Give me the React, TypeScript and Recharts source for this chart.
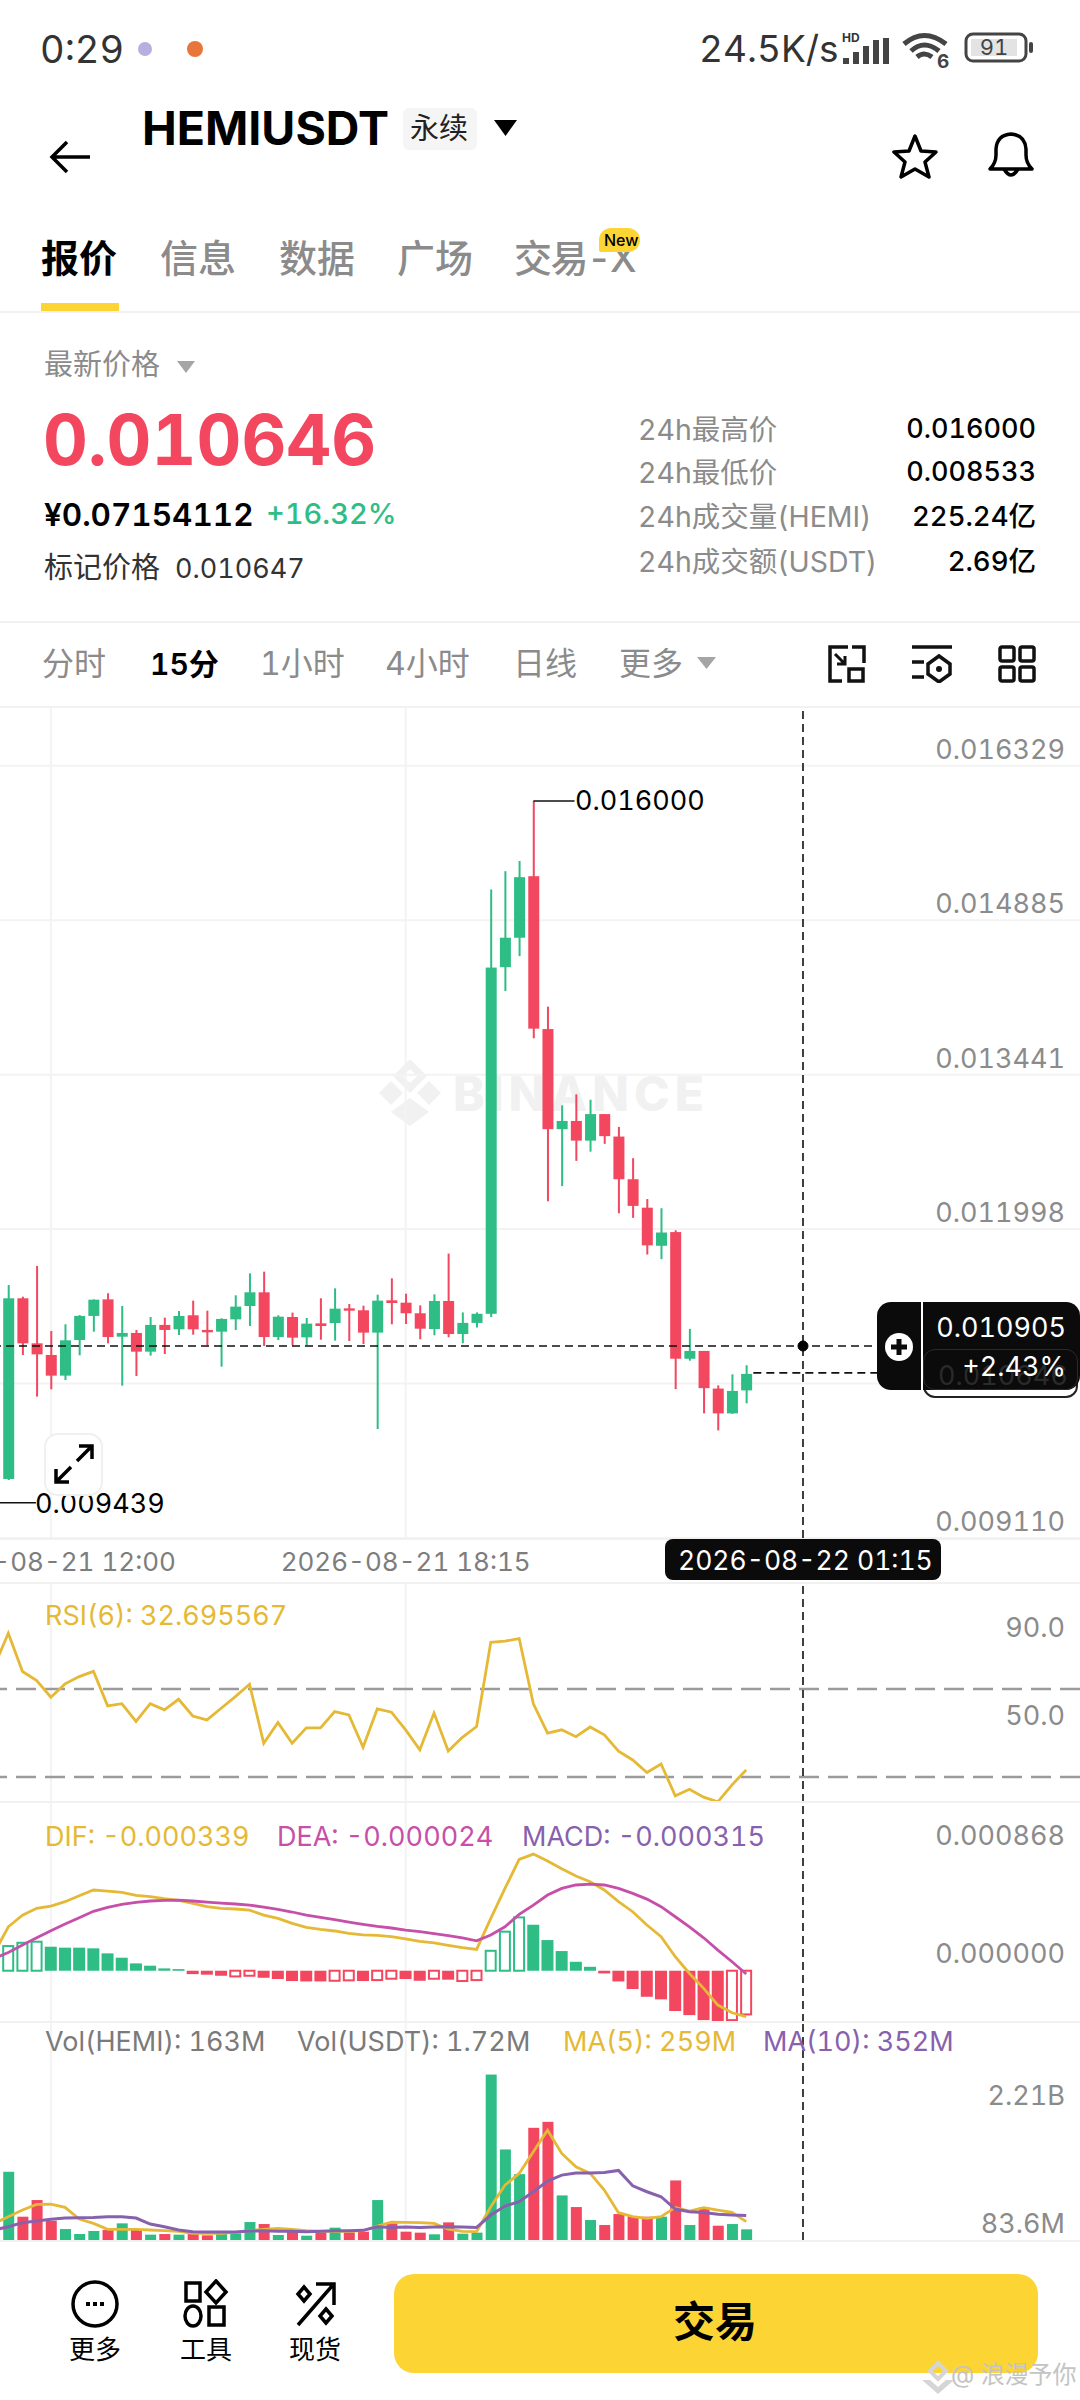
import React from 'react';
import { ComposedChart, Bar, Line, XAxis, YAxis, CartesianGrid, ReferenceLine, ReferenceDot } from 'recharts';

const UP = '#2ebd85';
const DOWN = '#f3475f';
const YELLOW = '#e5b935';
const PINK = '#c64fa9';
const PURPLE = '#8761ae';
const GREY = '#8b8b8b';
const GRID = '#f3f3f3';
const FONT = 'Inter, "Noto Sans CJK SC", sans-serif';

// every list starts one 15 minute bar left of the screen edge (index -1)
const opens = [0.0100, 0.009662, 0.011351, 0.010930, 0.010821, 0.010628, 0.010961, 0.011186, 0.011341, 0.010992, 0.011027, 0.010852, 0.011102, 0.011061, 0.011192, 0.011055, 0.011039, 0.011154, 0.011279, 0.011407, 0.010989, 0.011176, 0.010986, 0.011117, 0.011120, 0.011257, 0.011239, 0.011030, 0.011332, 0.011310, 0.011211, 0.011064, 0.011326, 0.011017, 0.011121, 0.011206, 0.014447, 0.014722, 0.015297, 0.013868, 0.012932, 0.013009, 0.012825, 0.013073, 0.012863, 0.012464, 0.012198, 0.011842, 0.011970, 0.010786, 0.010859, 0.010507, 0.010275, 0.010490];
const highs = [0.0101, 0.011475, 0.011366, 0.011653, 0.011045, 0.011108, 0.011195, 0.011341, 0.011398, 0.011279, 0.011055, 0.011176, 0.011170, 0.011232, 0.011329, 0.011235, 0.011164, 0.011379, 0.011584, 0.011600, 0.011192, 0.011217, 0.011167, 0.011351, 0.011444, 0.011298, 0.011282, 0.011385, 0.011538, 0.011394, 0.011285, 0.011388, 0.011769, 0.011219, 0.011219, 0.015173, 0.015344, 0.015439, 0.016000, 0.014078, 0.013155, 0.013258, 0.013207, 0.013073, 0.012953, 0.012661, 0.012279, 0.012193, 0.011987, 0.011065, 0.010859, 0.010537, 0.010640, 0.010725];
const lows = [0.009439, 0.009652, 0.010821, 0.010432, 0.010500, 0.010587, 0.010818, 0.011039, 0.010930, 0.010534, 0.010625, 0.010815, 0.010830, 0.011008, 0.011011, 0.010911, 0.010712, 0.011055, 0.011092, 0.010905, 0.010961, 0.010911, 0.010911, 0.010964, 0.010955, 0.010952, 0.010924, 0.010129, 0.011108, 0.011111, 0.010968, 0.011005, 0.010987, 0.010931, 0.011078, 0.011176, 0.014224, 0.014550, 0.013782, 0.012258, 0.012400, 0.012636, 0.012722, 0.012795, 0.012146, 0.012103, 0.011760, 0.011717, 0.010502, 0.010768, 0.010275, 0.010116, 0.010271, 0.010369];
const closes = [0.00966, 0.011351, 0.010930, 0.010827, 0.010628, 0.010958, 0.011186, 0.011338, 0.010989, 0.011027, 0.010852, 0.011102, 0.011055, 0.011186, 0.011061, 0.011033, 0.011158, 0.011273, 0.011407, 0.010989, 0.011179, 0.010983, 0.011114, 0.011092, 0.011254, 0.011235, 0.011030, 0.011329, 0.011307, 0.011211, 0.011067, 0.011326, 0.011017, 0.011121, 0.011206, 0.014443, 0.014722, 0.015288, 0.013872, 0.012932, 0.013009, 0.012825, 0.013073, 0.012867, 0.012464, 0.012215, 0.011846, 0.011966, 0.010786, 0.010859, 0.010511, 0.010275, 0.010485, 0.010644];

const rsiValues = [80.2, 95.3, 77.9, 73.8, 66.2, 72.3, 75.6, 78.0, 62.3, 63.3, 55.2, 63.3, 60.5, 65.3, 57.7, 55.9, 61.2, 66.5, 72.1, 45.3, 54.7, 45.3, 52.3, 52.3, 59.7, 58.2, 43.5, 60.9, 59.4, 51.4, 42.3, 59.0, 41.8, 48.0, 52.9, 91.2, 91.7, 92.9, 63.2, 49.9, 51.4, 48.3, 52.7, 49.1, 41.7, 37.7, 32.0, 35.9, 21.4, 24.4, 20.8, 18.7, 26.4, 33.2];

const difValues = [0.000128, 0.000324, 0.000410, 0.000460, 0.000477, 0.000509, 0.000553, 0.000595, 0.000587, 0.000578, 0.000556, 0.000546, 0.000531, 0.000519, 0.000497, 0.000472, 0.000460, 0.000455, 0.000447, 0.000410, 0.000386, 0.000349, 0.000320, 0.000305, 0.000293, 0.000275, 0.000265, 0.000261, 0.000251, 0.000234, 0.000216, 0.000206, 0.000187, 0.000170, 0.000157, 0.000386, 0.000607, 0.000821, 0.000860, 0.000809, 0.000752, 0.000698, 0.000656, 0.000595, 0.000509, 0.000435, 0.000337, 0.000251, 0.000103, -0.000020, -0.000130, -0.000253, -0.000310, -0.000339];
const deaValues = [0.000091, 0.000135, 0.000189, 0.000243, 0.000295, 0.000344, 0.000391, 0.000438, 0.000467, 0.000489, 0.000504, 0.000514, 0.000519, 0.000521, 0.000514, 0.000506, 0.000499, 0.000492, 0.000484, 0.000469, 0.000452, 0.000433, 0.000410, 0.000393, 0.000376, 0.000359, 0.000342, 0.000327, 0.000315, 0.000300, 0.000288, 0.000273, 0.000258, 0.000243, 0.000221, 0.000263, 0.000324, 0.000415, 0.000484, 0.000558, 0.000607, 0.000632, 0.000639, 0.000632, 0.000607, 0.000570, 0.000528, 0.000472, 0.000398, 0.000324, 0.000243, 0.000152, 0.000066, -0.000024];
const macdValues = [0.000152, 0.000182, 0.000206, 0.000214, 0.000177, 0.000170, 0.000170, 0.000165, 0.000128, 0.000096, 0.000054, 0.000037, 0.000017, 0.000012, -0.000025, -0.000029, -0.000037, -0.000042, -0.000037, -0.000052, -0.000061, -0.000076, -0.000079, -0.000079, -0.000074, -0.000071, -0.000076, -0.000069, -0.000059, -0.000061, -0.000074, -0.000059, -0.000066, -0.000076, -0.000069, 0.000147, 0.000288, 0.000393, 0.000339, 0.000226, 0.000145, 0.000066, 0.000029, -0.000020, -0.000079, -0.000135, -0.000192, -0.000211, -0.000297, -0.000327, -0.000364, -0.000376, -0.000364, -0.000322];
const hollowMacd = [-1, 0, 1, 2, 16, 17, 23, 24, 26, 27, 30, 32, 33, 34, 35, 36, 51, 52];

const volumes = [800, 1189, 406, 696, 336, 191, 104, 157, 174, 290, 174, 93, 104, 93, 104, 81, 104, 116, 313, 278, 87, 157, 75, 145, 215, 133, 145, 696, 290, 145, 128, 99, 307, 110, 128, 2883, 1578, 1148, 1955, 2059, 777, 574, 348, 261, 452, 406, 406, 406, 1038, 261, 563, 249, 278, 186].map((v) => v * 1e6);
const ma5Values = [290, 406, 522, 621, 626, 568, 365, 290, 186, 186, 186, 174, 162, 151, 116, 116, 116, 133, 162, 186, 203, 186, 162, 151, 151, 151, 162, 244, 313, 307, 302, 290, 191, 151, 145, 580, 957, 1160, 1537, 1914, 1508, 1276, 1160, 870, 476, 406, 377, 406, 568, 505, 563, 522, 481, 319].map((v) => v * 1e6);
const ma10Values = [174, 232, 302, 331, 360, 383, 389, 394, 406, 406, 383, 278, 232, 174, 145, 139, 139, 139, 157, 162, 151, 151, 145, 151, 162, 162, 168, 232, 220, 226, 220, 226, 232, 226, 220, 435, 592, 667, 841, 1027, 1131, 1166, 1166, 1177, 1212, 945, 841, 754, 539, 493, 481, 447, 435, 429].map((v) => v * 1e6);

const priceTicks = [0.016329, 0.014885, 0.013441, 0.011998, 0.010554, 0.00911];
const rsiTicks = [90, 50];
const macdTicks = [0.000868, 0];
const volTicks = [2.21e9, 83.6e6];
const timeTicks = [3, 28];
const timeLabels = ['2026-08-21 12:00', '2026-08-21 18:15'];

const CROSS_INDEX = 56;
const CROSS_PRICE = 0.010905;
const LAST_PRICE = 0.010654;
const X_DOMAIN: [number, number] = [-0.585, 75.52];

const rows = opens.map((open, i) => ({
  idx: i - 1,
  open,
  high: highs[i],
  low: lows[i],
  close: closes[i],
  rsi: rsiValues[i],
  dif: difValues[i],
  dea: deaValues[i],
  macd: macdValues[i],
  hollow: hollowMacd.includes(i - 1),
  vol: volumes[i],
  ma5: ma5Values[i],
  ma10: ma10Values[i],
}));

const CandleShape = (props: any) => {
  const { x, y, width, height, payload } = props;
  const k = height / (payload.high - payload.low);
  const up = payload.close >= payload.open;
  const color = up ? UP : DOWN;
  const bodyTop = y + (payload.high - Math.max(payload.open, payload.close)) * k;
  const bodyH = Math.max(Math.abs(payload.open - payload.close) * k, 2);
  const mid = x + width / 2;
  return (
    <g>
      <rect x={mid - 1} y={y} width={2} height={height} fill={color} />
      <rect x={x} y={bodyTop} width={width} height={bodyH} fill={color} />
    </g>
  );
};

const MacdShape = (props: any) => {
  const { x, y, width, height, payload } = props;
  const top = Math.min(y, y + height);
  const h = Math.abs(height);
  const color = payload.macd >= 0 ? UP : DOWN;
  if (payload.hollow) {
    return <rect x={x + 1} y={top} width={width - 2} height={h} fill="#fff" stroke={color} strokeWidth={2} />;
  }
  return <rect x={x} y={top} width={width} height={h} fill={color} />;
};

const VolShape = (props: any) => {
  const { x, y, width, height, payload } = props;
  return <rect x={x} y={y} width={width} height={height} fill={payload.close >= payload.open ? UP : DOWN} />;
};

const edgeTick = (format: (v: number) => string, lift: (v: number) => number) => (props: any) => {
  const { y, payload } = props;
  return (
    <text x={1065} y={y - lift(payload.value)} textAnchor="end" fontSize={27} fontFamily={FONT} fill={GREY}>
      {format(payload.value)}
    </text>
  );
};

const Txt = ({ x, r, y, s, c = '#000', w = 400, ls, children }: any) => (
  <div
    style={{
      position: 'absolute',
      left: r === undefined ? x : undefined,
      right: r !== undefined ? 1080 - r : undefined,
      top: y - s,
      height: 2 * s,
      lineHeight: `${2 * s}px`,
      fontSize: s,
      color: c,
      fontWeight: w,
      letterSpacing: ls,
      whiteSpace: 'nowrap',
    }}
  >
    {children}
  </div>
);

const Rule = ({ y, c = '#f1f1f1', h = 2 }: any) => (
  <div style={{ position: 'absolute', left: 0, top: y, width: 1080, height: h, background: c }} />
);

const Icon = ({ x, y, w, h, vb, children }: any) => (
  <svg style={{ position: 'absolute', left: x, top: y }} width={w} height={h} viewBox={vb || `0 0 ${w} ${h}`}>
    {children}
  </svg>
);

const TriDown = ({ x, y, w, h, c }: any) => (
  <Icon x={x} y={y} w={w} h={h}>
    <polygon points={`0,0 ${w},0 ${w / 2},${h}`} fill={c} />
  </Icon>
);

const panel = (top: number) => ({ position: 'absolute' as const, left: 0, top });

const SharedX = (hide: boolean) => (
  <XAxis
    dataKey="idx"
    type="number"
    domain={X_DOMAIN}
    allowDataOverflow
    ticks={timeTicks}
    interval={0}
    hide={hide}
    height={hide ? 0 : 45}
    axisLine={false}
    tickLine={false}
    tickFormatter={(v: number) => timeLabels[timeTicks.indexOf(v)]}
    tick={{ fontSize: 26, fontFamily: FONT, fill: '#7d7d7d' }}
    tickMargin={9}
  />
);

const Header = () => (
  <>
    <Txt x={40} y={49} s={38} c="#333">0:29</Txt>
    <Icon x={135} y={38} w={70} h={22}>
      <circle cx={10} cy={11} r={7} fill="#b9aee0" />
      <circle cx={60} cy={11} r={8} fill="#e8763a" />
    </Icon>
    <Txt x={699} y={49} s={37} c="#333">24.5K/s</Txt>
    <Txt x={842} y={38} s={12} c="#333" w={700}>HD</Txt>
    <Icon x={843} y={38} w={46} h={26}>
      <rect x={0} y={20} width={6} height={6} fill="#444" />
      <rect x={10} y={14} width={6} height={12} fill="#444" />
      <rect x={20} y={8} width={6} height={18} fill="#444" />
      <rect x={30} y={2} width={6} height={24} fill="#444" />
      <rect x={40} y={0} width={6} height={26} fill="#444" />
    </Icon>
    <Icon x={902} y={31} w={48} h={38}>
      <path d="M2 13 Q22 -4 44 13 M9 20 Q22 8 37 20 M15 26 Q22 20 30 26" fill="none" stroke="#444" strokeWidth={5} />
      <text x={35} y={37} fontSize={19} fontWeight={700} fill="#444" fontFamily={FONT}>6</text>
    </Icon>
    <Icon x={964} y={32} w={70} h={32}>
      <rect x={2} y={2} width={60} height={27} rx={7} fill="#fff" stroke="#444" strokeWidth={3} />
      <rect x={7} y={7} width={46} height={17} fill="#e3e3e3" />
      <rect x={65} y={10} width={4} height={11} rx={2} fill="#444" />
      <text x={30} y={23} fontSize={22} textAnchor="middle" fill="#444" fontFamily={FONT}>91</text>
    </Icon>

    <Icon x={48} y={140} w={44} h={34}>
      <path d="M42 17 H4 M19 2 L4 17 L19 32" fill="none" stroke="#000" strokeWidth={3.5} />
    </Icon>
    <Txt x={142} y={128} s={46.5} w={700}>HEMIUSDT</Txt>
    <div style={{ position: 'absolute', left: 403, top: 108, width: 74, height: 42, background: '#f5f5f5', borderRadius: 6 }} />
    <Txt x={410} y={129} s={29} c="#222">永续</Txt>
    <TriDown x={494} y={120} w={23} h={16} c="#000" />
    <Icon x={891} y={133} w={48} h={46}>
      <polygon points="24,3 30,18 45,19 34,29 38,44 24,36 10,44 14,29 3,19 18,18" fill="none" stroke="#000" strokeWidth={3.5} strokeLinejoin="round" />
    </Icon>
    <Icon x={986} y={131} w={50} h={50}>
      <path d="M4 38 Q10 32 10 24 V18 Q11 4 25 3 Q39 4 40 18 V24 Q40 32 46 38 Z M18 38 Q25 50 32 38" fill="none" stroke="#000" strokeWidth={3.5} strokeLinejoin="round" />
    </Icon>

    <Txt x={41} y={258} s={38} w={700}>报价</Txt>
    <Txt x={160} y={258} s={38} c={GREY} w={500}>信息</Txt>
    <Txt x={279} y={258} s={38} c={GREY} w={500}>数据</Txt>
    <Txt x={397} y={258} s={38} c={GREY} w={500}>广场</Txt>
    <Txt x={514} y={258} s={38} c={GREY} w={500} ls={-1.5}>交易-X</Txt>
    <div style={{ position: 'absolute', left: 599, top: 228, width: 41, height: 24, background: '#fcd535', borderRadius: 12, borderBottomLeftRadius: 2 }} />
    <Txt x={604} y={240} s={16} w={500}>New</Txt>
    <div style={{ position: 'absolute', left: 41, top: 303, width: 78, height: 9, background: '#fcd535' }} />
    <Rule y={311} />

    <Txt x={44} y={365} s={29} c={GREY}>最新价格</Txt>
    <TriDown x={177} y={361} w={18} h={12} c="#a5a5a5" />
    <Txt x={43} y={440} s={69.5} c={DOWN} w={700}>0.010646</Txt>
    <Txt x={44} y={514} s={31.5} w={600}>¥0.07154112</Txt>
    <Txt x={266} y={514} s={29} c={UP} w={500}>+16.32%</Txt>
    <Txt x={44} y={568} s={29} c="#333">标记价格</Txt>
    <Txt x={175} y={569} s={27} c="#333">0.010647</Txt>

    <Txt x={638} y={429} s={28.5} c={GREY}>24h最高价</Txt>
    <Txt x={638} y={472} s={28.5} c={GREY}>24h最低价</Txt>
    <Txt x={638} y={516} s={28.5} c={GREY}>24h成交量(HEMI)</Txt>
    <Txt x={638} y={561} s={28.5} c={GREY}>24h成交额(USDT)</Txt>
    <Txt r={1036} y={429} s={27} w={500}>0.016000</Txt>
    <Txt r={1036} y={472} s={27} w={500}>0.008533</Txt>
    <Txt r={1036} y={516} s={27.5} w={500}>225.24亿</Txt>
    <Txt r={1036} y={561} s={27.5} w={500}>2.69亿</Txt>
    <Rule y={621} />

    <Txt x={42} y={664} s={32} c={GREY}>分时</Txt>
    <Txt x={150} y={664} s={30} w={600}>15分</Txt>
    <Txt x={260} y={664} s={32} c={GREY}>1小时</Txt>
    <Txt x={385} y={664} s={32} c={GREY}>4小时</Txt>
    <Txt x={513} y={664} s={32} c={GREY}>日线</Txt>
    <Txt x={619} y={664} s={32} c={GREY}>更多</Txt>
    <TriDown x={697} y={657} w={19} h={12} c="#a5a5a5" />
    <Icon x={828} y={645} w={38} h={38}>
      <path d="M20 2 H2 V36 H14 M24 2 H36 V18" fill="none" stroke="#111" strokeWidth={3.5} />
      <path d="M7 9 L17 19 M17 11 V19 H9" fill="none" stroke="#111" strokeWidth={3} />
      <rect x={21} y={24} width={14} height={12} fill="none" stroke="#111" strokeWidth={3.5} />
    </Icon>
    <Icon x={912} y={645} w={42} h={38}>
      <path d="M0 2 H40 M0 17 H12 M0 32 H12" fill="none" stroke="#111" strokeWidth={3.5} />
      <polygon points="27,11 38,19 38,29 27,37 16,29 16,19" fill="none" stroke="#111" strokeWidth={3.5} />
      <circle cx={27} cy={24} r={3} fill="#111" />
    </Icon>
    <Icon x={998} y={645} w={38} h={38}>
      <rect x={2} y={2} width={14} height={14} rx={2} fill="none" stroke="#111" strokeWidth={3.5} />
      <rect x={22} y={2} width={14} height={14} rx={2} fill="none" stroke="#111" strokeWidth={3.5} />
      <rect x={2} y={22} width={14} height={14} rx={2} fill="none" stroke="#111" strokeWidth={3.5} />
      <rect x={22} y={22} width={14} height={14} rx={2} fill="none" stroke="#111" strokeWidth={3.5} />
    </Icon>
    <Rule y={706} />
  </>
);

const Watermark = () => (
  <>
    <Icon x={377} y={1060} w={66} h={66}>
      <polygon points="33,4 45,16 33,28 21,16" fill="none" stroke="#f1f1f1" strokeWidth={7} />
      <polygon points="2,33 14,21 26,33 14,45" fill="#f1f1f1" />
      <polygon points="64,33 52,21 40,33 52,45" fill="#f1f1f1" />
      <polygon points="33,38 52,52 33,66 14,52" fill="#f1f1f1" />
    </Icon>
    <Txt x={453} y={1094} s={48} c="#f1f1f1" w={800} ls={5}>BINANCE</Txt>
  </>
);

const Overlays = () => (
  <>
    <Txt x={575} y={801} s={27}>0.016000</Txt>
    <Txt x={35} y={1504} s={27}>0.009439</Txt>

    <div style={{ position: 'absolute', left: 44, top: 1433, width: 59, height: 63, background: '#fff', border: '2px solid #f0f0f0', borderRadius: 14, boxSizing: 'border-box' }} />
    <Icon x={53} y={1443} w={42} h={42}>
      <path d="M24 18 L38 4 M26 3 H39 V16 M18 24 L4 38 M3 26 V39 H16" fill="none" stroke="#000" strokeWidth={3.5} />
    </Icon>

    <div style={{ position: 'absolute', left: 923, top: 1349, width: 155, height: 49, background: '#fff', border: '2px solid #222', borderRadius: 12, boxSizing: 'border-box' }} />
    <div style={{ position: 'absolute', left: 877, top: 1302, width: 203, height: 88, background: '#0b0b0b', borderRadius: 14 }} />
    <div style={{ position: 'absolute', left: 921, top: 1296, width: 2, height: 100, background: '#fff' }} />
    <div style={{ position: 'absolute', left: 923, top: 1349, width: 155, height: 41, border: '1px solid #2a2a2a', borderRadius: 12, boxSizing: 'border-box' }} />
    <Txt x={938} y={1376} s={27} c="#2a2a2a">0.010646</Txt>
    <Txt r={1066} y={1328} s={27} c="#fff">0.010905</Txt>
    <Txt r={1066} y={1367} s={27} c="#fff">+2.43%</Txt>
    <Icon x={885} y={1333} w={28} h={28}>
      <circle cx={14} cy={14} r={14} fill="#fff" />
      <path d="M14 6 V22 M6 14 H22" stroke="#0b0b0b" strokeWidth={5} />
    </Icon>

    <div style={{ position: 'absolute', left: 665, top: 1539, width: 276, height: 41, background: '#0b0b0b', borderRadius: 8 }} />
    <Txt x={678} y={1560} s={26.5} c="#fff">2026-08-22 01:15</Txt>

    <Txt x={45} y={1616} s={27} c={YELLOW}>RSI(6): 32.695567</Txt>
    <Txt x={45} y={1837} s={27} c={YELLOW}>DIF: -0.000339</Txt>
    <Txt x={277} y={1837} s={27} c={PINK}>DEA: -0.000024</Txt>
    <Txt x={522} y={1837} s={27} c={PURPLE}>MACD: -0.000315</Txt>
    <Txt x={45} y={2042} s={27} c="#7a7a7a">Vol(HEMI): 163M</Txt>
    <Txt x={297} y={2042} s={27} c="#7a7a7a">Vol(USDT): 1.72M</Txt>
    <Txt x={563} y={2042} s={27} c={YELLOW}>MA(5): 259M</Txt>
    <Txt x={763} y={2042} s={27} c={PURPLE}>MA(10): 352M</Txt>
  </>
);

const Footer = () => (
  <>
    <Icon x={70} y={2279} w={50} h={50}>
      <circle cx={25} cy={25} r={22} fill="none" stroke="#000" strokeWidth={3.5} />
      <path d="M16 25 H34" stroke="#000" strokeWidth={4} strokeDasharray="4 3" />
    </Icon>
    <Txt x={69} y={2350} s={26}>更多</Txt>
    <Icon x={183} y={2279} w={46} h={50}>
      <rect x={3} y={4} width={14} height={18} fill="none" stroke="#000" strokeWidth={3.5} />
      <polygon points="33,2 43,13 33,24 23,13" fill="none" stroke="#000" strokeWidth={3.5} />
      <ellipse cx={10} cy={37} rx={8} ry={10} fill="none" stroke="#000" strokeWidth={3.5} />
      <rect x={26} y={28} width={15} height={18} fill="none" stroke="#000" strokeWidth={3.5} />
    </Icon>
    <Txt x={180} y={2350} s={26}>工具</Txt>
    <Icon x={294} y={2281} w={44} h={46}>
      <path d="M4 44 L38 5 M22 3 H40 V24" fill="none" stroke="#000" strokeWidth={3.5} />
      <polygon points="10,6 16,13 10,20 4,13" fill="none" stroke="#000" strokeWidth={3.5} />
      <polygon points="32,28 38,35 32,42 26,35" fill="none" stroke="#000" strokeWidth={3.5} />
    </Icon>
    <Txt x={289} y={2350} s={26}>现货</Txt>
    <div style={{ position: 'absolute', left: 394, top: 2274, width: 644, height: 99, background: '#fcd535', borderRadius: 20 }} />
    <Txt x={673} y={2322} s={42} w={700}>交易</Txt>
    <Icon x={918} y={2360} w={44} h={36}>
      <polygon points="20,3 28,11 20,19 12,11" fill="none" stroke="#d5d5d5" strokeWidth={4} />
      <polygon points="4,20 20,34 36,20 28,20 20,27 12,20" fill="#d5d5d5" />
    </Icon>
    <Txt x={951} y={2375} s={24} c="#c4c4c4">@ 浪漫予你</Txt>
  </>
);

export default function App() {
  return (
    <div style={{ position: 'absolute', left: 0, top: 0, width: 1080, height: 2400, background: '#fff', overflow: 'hidden', fontFamily: FONT, fontVariantNumeric: 'tabular-nums' }}>
      <Header />
      <Watermark />

      <div style={panel(707)}>
        <ComposedChart width={1080} height={876} data={rows} margin={{ top: 0, right: 0, bottom: 0, left: 0 }}>
          <CartesianGrid stroke={GRID} strokeWidth={2} horizontalValues={priceTicks} verticalValues={timeTicks} />
          {SharedX(false)}
          <YAxis
            orientation="right"
            mirror
            domain={[0.00911, 0.016879]}
            allowDataOverflow
            ticks={priceTicks}
            interval={0}
            axisLine={false}
            tickLine={false}
            tick={edgeTick((v) => v.toFixed(6), () => 7)}
          />
          <Bar dataKey={(d: any) => [d.low, d.high]} barSize={11} shape={CandleShape} isAnimationActive={false} />
          <ReferenceLine y={CROSS_PRICE} stroke="#111" strokeWidth={1.6} strokeDasharray="8 5" />
          <ReferenceLine
            segment={[{ x: 52.5, y: LAST_PRICE }, { x: 75, y: LAST_PRICE }]}
            stroke="#111"
            strokeWidth={1.6}
            strokeDasharray="8 5"
          />
          <ReferenceLine x={CROSS_INDEX} stroke="#111" strokeWidth={1.6} strokeDasharray="8 5" />
          <ReferenceLine segment={[{ x: 37, y: 0.016 }, { x: 39.9, y: 0.016 }]} stroke="#111" strokeWidth={1.6} />
          <ReferenceLine segment={[{ x: -0.585, y: 0.009439 }, { x: 1.95, y: 0.009439 }]} stroke="#111" strokeWidth={1.6} />
          <ReferenceDot x={CROSS_INDEX} y={CROSS_PRICE} r={5} fill="#000" stroke="#000" />
        </ComposedChart>
      </div>

      <div style={panel(1582)}>
        <ComposedChart width={1080} height={220} data={rows} margin={{ top: 0, right: 0, bottom: 0, left: 0 }}>
          <CartesianGrid stroke={GRID} strokeWidth={2} horizontal={false} verticalValues={timeTicks} />
          {SharedX(true)}
          <YAxis
            orientation="right"
            mirror
            domain={[18.6, 118.6]}
            allowDataOverflow
            ticks={rsiTicks}
            interval={0}
            axisLine={false}
            tickLine={false}
            tick={edgeTick((v) => v.toFixed(1), () => 8)}
          />
          <ReferenceLine y={70} stroke="#9b9b9b" strokeWidth={2.5} strokeDasharray="20 9" />
          <ReferenceLine y={30} stroke="#9b9b9b" strokeWidth={2.5} strokeDasharray="20 9" />
          <ReferenceLine x={CROSS_INDEX} stroke="#111" strokeWidth={1.6} strokeDasharray="8 5" />
          <Line dataKey="rsi" stroke={YELLOW} strokeWidth={2.8} dot={false} activeDot={false} isAnimationActive={false} />
        </ComposedChart>
      </div>

      <div style={panel(1802)}>
        <ComposedChart width={1080} height={220} data={rows} margin={{ top: 0, right: 0, bottom: 0, left: 0 }}>
          <CartesianGrid stroke={GRID} strokeWidth={2} horizontal={false} verticalValues={timeTicks} />
          {SharedX(true)}
          <YAxis
            orientation="right"
            mirror
            domain={[-0.000378, 0.001244]}
            allowDataOverflow
            ticks={macdTicks}
            interval={0}
            axisLine={false}
            tickLine={false}
            tick={edgeTick((v) => v.toFixed(6), () => 8)}
          />
          <ReferenceLine x={CROSS_INDEX} stroke="#111" strokeWidth={1.6} strokeDasharray="8 5" />
          <Bar dataKey="macd" barSize={12} shape={MacdShape} isAnimationActive={false} />
          <Line dataKey="dif" stroke={YELLOW} strokeWidth={2.8} dot={false} activeDot={false} isAnimationActive={false} />
          <Line dataKey="dea" stroke={PINK} strokeWidth={2.8} dot={false} activeDot={false} isAnimationActive={false} />
        </ComposedChart>
      </div>

      <div style={panel(2022)}>
        <ComposedChart width={1080} height={218} data={rows} margin={{ top: 0, right: 0, bottom: 0, left: 0 }}>
          <CartesianGrid stroke={GRID} strokeWidth={2} horizontal={false} verticalValues={timeTicks} />
          {SharedX(true)}
          <YAxis
            orientation="right"
            mirror
            domain={[0, 3.799e9]}
            allowDataOverflow
            ticks={volTicks}
            interval={0}
            axisLine={false}
            tickLine={false}
            tick={edgeTick((v) => (v >= 1e9 ? `${(v / 1e9).toFixed(2)}B` : `${(v / 1e6).toFixed(1)}M`), (v) => (v >= 1e9 ? 8 : 2))}
          />
          <ReferenceLine x={CROSS_INDEX} stroke="#111" strokeWidth={1.6} strokeDasharray="8 5" />
          <Bar dataKey="vol" barSize={11} shape={VolShape} isAnimationActive={false} />
          <Line dataKey="ma5" stroke={YELLOW} strokeWidth={2.8} dot={false} activeDot={false} isAnimationActive={false} />
          <Line dataKey="ma10" stroke={PURPLE} strokeWidth={3} dot={false} activeDot={false} isAnimationActive={false} />
        </ComposedChart>
      </div>

      <Rule y={1538} />
      <Rule y={1582} />
      <Rule y={1801} />
      <Rule y={2021} />
      <Rule y={2240} />

      <Overlays />
      <Footer />
    </div>
  );
}
